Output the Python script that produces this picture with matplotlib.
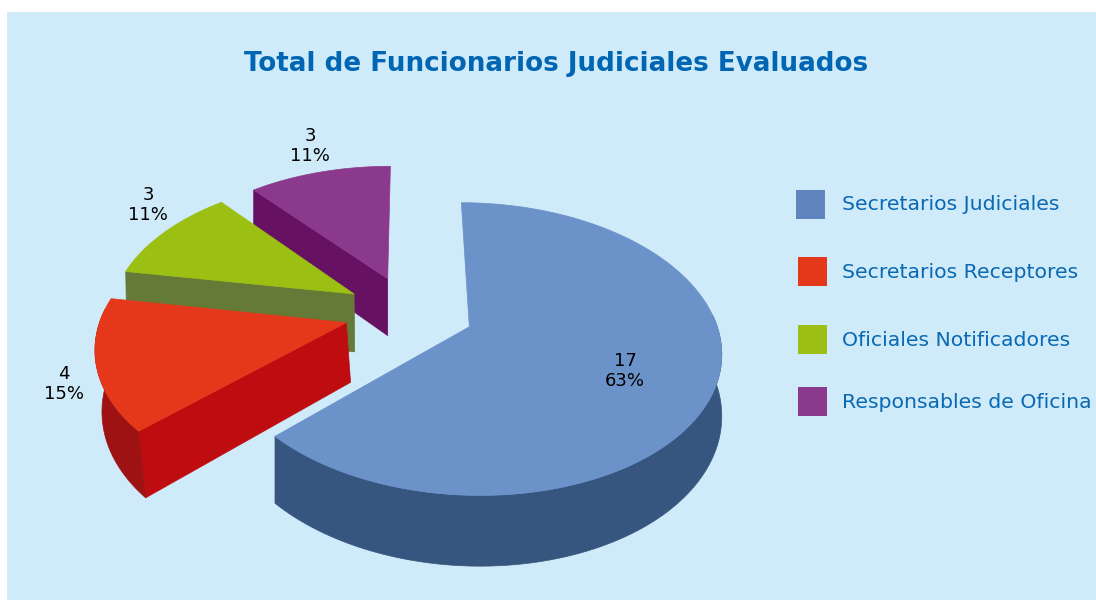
import numpy as np
import matplotlib
matplotlib.use('Agg')
import matplotlib.pyplot as plt
from matplotlib.patches import Polygon, Rectangle

# Data
categories = ['Secretarios Judiciales', 'Secretarios Receptores', 'Oficiales Notificadores', 'Responsables de Oficina']
values = [17, 4, 3, 3]

# Colours: top, cut face, outer wall, legend
top_colors = ['#6B92C9', '#E5381B', '#9BBF12', '#8B398C']
cut_colors = ['#36557F', '#BF0C10', '#657A36', '#671162']
wall_colors = ['#36557F', '#9E1214', '#657A36', '#671162']
legend_colors = ['#5F84BE', '#E5381B', '#9BBF12', '#8B398C']

# Layout (pixels)
W, H = 1096, 601
bg = '#CFEAF9'
text_blue = '#0A69B3'
label_xy = [(625, 371), (64, 384), (148, 205), (310, 146)]
legend_box = [(796, 190), (798, 257), (798, 325), (798, 387)]
legend_text_y = [204, 272, 340, 402]
bottom_shift = [0, 7, 1, 0]

# Fake perspective of the pie
Cx, Cy = 409, 312
A, B, k = 244, 138.5, 0.15
depth = 59
explode = 0.265
start_angle = 0.0


def project(u, v, down=0.0, shift=0.0):
    w = 1 + k * v
    return Cx + A * u / w + shift * down, Cy - B * v / w + depth * down / w


fig = plt.figure(figsize=(W / 100, H / 100), dpi=100, facecolor='white')
ax = fig.add_axes([0, 0, 1, 1])
ax.set_xlim(0, W)
ax.set_ylim(H, 0)
ax.axis('off')
ax.add_patch(Rectangle((7, 12), W - 7, H - 12 - 1, color=bg, lw=0))

total = sum(values)
edges = start_angle + np.cumsum([0] + values) / total * 360

# Back slices first so the front ones cover them
for i in [3, 2, 1, 0]:
    a0, a1 = np.radians(edges[i]), np.radians(edges[i + 1])
    mid = (a0 + a1) / 2
    ou, ov = explode * np.sin(mid), explode * np.cos(mid)
    t = np.linspace(a0, a1, 150)
    u = ou + np.sin(t)
    v = ov + np.cos(t)
    s = bottom_shift[i]

    ax_, ay_ = project(ou, ov)
    bx_, by_ = project(ou, ov, 1, s * 0.6)
    tx, ty = project(u, v)
    lx, ly = project(u, v, 1, s)

    # Radial cut face, the blue one looks away from the viewer
    if i > 0:
        ax.add_patch(Polygon([(ax_, ay_), (tx[0], ty[0]), (lx[0], ly[0]), (bx_, by_)],
                             fc=cut_colors[i], ec=cut_colors[i], lw=0.5))
    # Outer wall, only the part that faces the viewer
    front = np.cos(t) < 0.1
    if front.any():
        ax.add_patch(Polygon(np.r_[np.c_[tx, ty][front], np.c_[lx, ly][front][::-1]],
                             fc=wall_colors[i], ec=wall_colors[i], lw=0.5))
    # Top
    ax.add_patch(Polygon(np.r_[[[ax_, ay_]], np.c_[tx, ty]],
                         fc=top_colors[i], ec=top_colors[i], lw=0.5))

for val, (x, y) in zip(values, label_xy):
    pct = round(100 * val / total)
    ax.text(x, y, f'{val}\n{pct}%', ha='center', va='center', fontsize=13,
            color='black', family='DejaVu Sans', linespacing=1.2)

ax.text(556, 64, 'Total de Funcionarios Judiciales Evaluados', ha='center', va='center',
        fontsize=18.85, fontweight='bold', color='#0066B3', family='DejaVu Sans')

for name, col, (x, y), ty in zip(categories, legend_colors, legend_box, legend_text_y):
    ax.add_patch(Rectangle((x, y), 29, 29, color=col, lw=0))
    ax.text(842, ty, name, ha='left', va='center', fontsize=14.7, color=text_blue, family='DejaVu Sans')

fig.savefig('out.png', dpi=100, facecolor='white')
